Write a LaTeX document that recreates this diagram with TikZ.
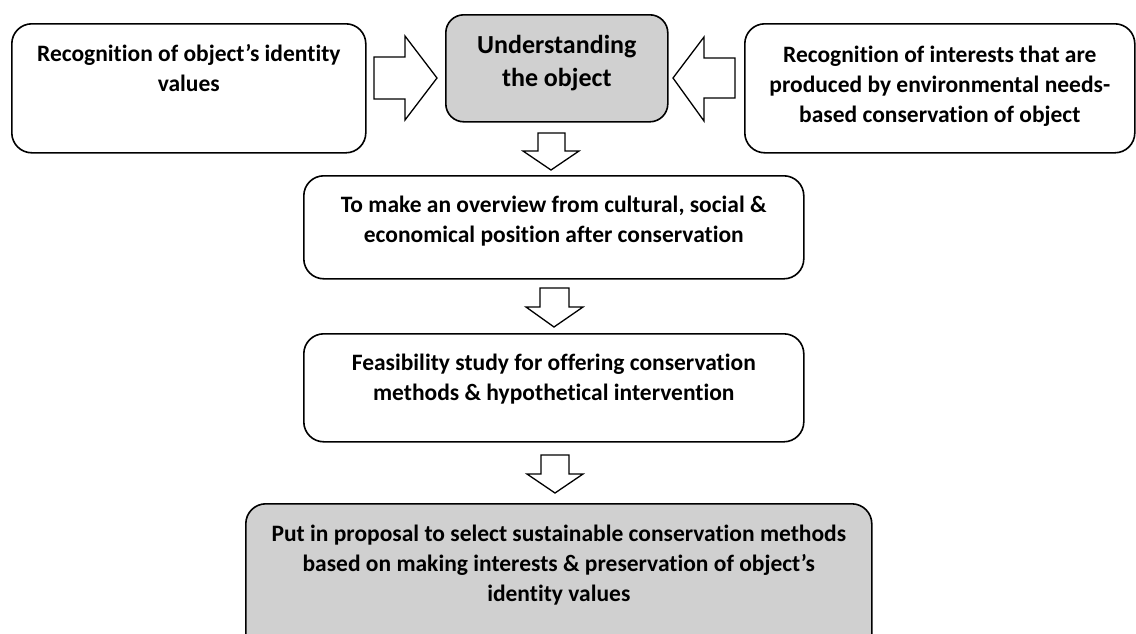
\documentclass[tikz,border=0pt]{standalone}
\usepackage{fontspec}
\setmainfont{Carlito}[Ligatures=NoCommon]
\usetikzlibrary{calc}
\definecolor{boxgray}{RGB}{208,208,208}
\begin{document}
\begin{tikzpicture}[x=1pt,y=-1pt,
  box/.style={draw=black, line width=1.6pt, rounded corners=20pt, inner sep=0pt, anchor=north west},
  graybox/.style={box, fill=boxgray},
  txt/.style={anchor=north, inner sep=0pt, align=center, font=\fontsize{23.5}{30}\selectfont\bfseries},
  blockarrow/.style={draw=black, line width=1.3pt, fill=white, line join=miter}]
\clip (0,0) rectangle (1136,633);
\useasboundingbox (0,0) rectangle (1136,633);
% boxes
\node[box, minimum width=354pt, minimum height=129pt] (A) at (11,23) {};
\node[graybox, minimum width=222pt, minimum height=107pt, rounded corners=18pt] (B) at (445,14) {};
\node[box, minimum width=390pt, minimum height=129pt] (C) at (744,23) {};
\node[box, minimum width=500pt, minimum height=103pt] (D) at (303,175) {};
\node[box, minimum width=500pt, minimum height=108pt] (E) at (303,333) {};
\node[graybox, minimum width=626pt, minimum height=150pt] (F) at (245,503) {};
% texts
\node[txt] (At) at ($(A.north)+(0,21)$) {Recognition of object’s identity\\values};
\node[txt, font=\fontsize{26}{33}\selectfont\bfseries] (Bt) at ($(B.north)+(0,21)$) {Understanding\\the object};
\node[txt] (Ct) at ($(C.north)+(0,23)$) {Recognition of interests that are\\produced by environmental needs-\\based conservation of object};
\node[txt] (Dt) at ($(D.north)+(0,21)$) {To make an overview from cultural, social \&\\economical position after conservation};
\node[txt] (Et) at ($(E.north)+(0,21)$) {Feasibility study for offering conservation\\methods \& hypothetical intervention};
\node[txt] (Ft) at ($(F.north)+(0,22)$) {Put in proposal to select sustainable conservation methods\\based on making interests \& preservation of object’s\\identity values};
% block arrows
\draw[blockarrow] (374,57) -- (405,57) -- (405,36) -- (437,78) -- (405,120) -- (405,99) -- (374,99) -- cycle;
\draw[blockarrow] (735,58) -- (704,58) -- (704,37) -- (673,78) -- (704,121) -- (704,98) -- (735,98) -- cycle;
\draw[blockarrow] (538,133) -- (565,133) -- (565,151) -- (579,151) -- (551,170) -- (523,151) -- (538,151) -- cycle;
\draw[blockarrow] (540,288) -- (569,288) -- (569,307) -- (583,307) -- (554,327) -- (526,307) -- (540,307) -- cycle;
\draw[blockarrow] (541,455) -- (569,455) -- (569,474) -- (583,474) -- (555,493) -- (527,474) -- (541,474) -- cycle;
\end{tikzpicture}
\end{document}
